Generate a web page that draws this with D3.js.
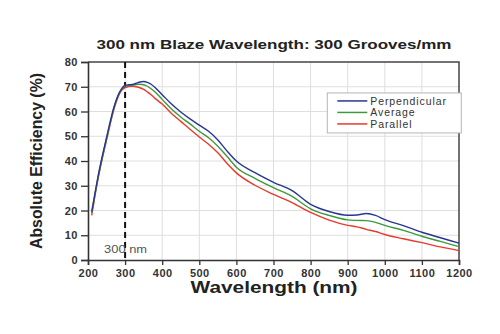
<!DOCTYPE html>
<html>
<head>
<meta charset="utf-8">
<script src="https://cdn.jsdelivr.net/npm/d3@7"></script>
<style>
  html, body { margin: 0; padding: 0; background: #fff; }
  svg { display: block; font-family: "Liberation Sans", Arial, sans-serif; }
</style>
</head>
<body>
<div id="chart"></div>
<script>
// wavelength grid (nm) shared by all three polarisation curves
const wavelengths = [210, 220, 230, 240, 250, 260, 270, 280, 290, 300, 310, 320, 330, 340, 350, 360, 370, 380, 400, 425, 450, 475, 500, 525, 550, 575, 600, 650, 700, 750, 800, 850, 900, 925, 950, 975, 1000, 1050, 1100, 1150, 1200];

// absolute efficiency (%)
const perpendicular = [19.5, 28, 36, 43, 49.5, 56, 61.8, 66.2, 69, 70.6, 70.8, 70.9, 71.4, 71.9, 72.1, 71.8, 71, 69.8, 66.8, 63, 59.8, 57, 54.5, 52, 48.5, 44, 40, 35.3, 31.4, 28, 22.5, 19.6, 18.1, 18.2, 18.8, 18, 16.3, 13.9, 11.2, 9, 6.8];
const average       = [19, 27.5, 35.5, 42.5, 49, 55.5, 61.4, 66, 68.9, 70.3, 70.5, 70.6, 70.9, 71, 70.8, 70.2, 69.2, 68, 64.9, 61, 57.8, 55, 52, 49.4, 46, 41.8, 37.5, 33, 29.2, 25.7, 20.7, 18, 16.2, 16, 15.9, 15.2, 14, 12, 9.6, 7.5, 5.4];
const parallel      = [18, 27, 35, 42, 48.5, 55, 61, 65.5, 68.4, 69.6, 70.1, 70.2, 70, 69.6, 68.9, 67.9, 66.8, 65.4, 63, 59.2, 56, 52.8, 49.7, 46.8, 43.3, 39, 35.2, 30.2, 26.5, 23.2, 19.2, 16.1, 14, 13.4, 12.4, 11.5, 10.3, 8.6, 7, 5.3, 3.8];

const seriesNames = ["Perpendicular", "Average", "Parallel"];
const seriesColors = ["#2a3592", "#3c9a3c", "#e8392c"];
const xTicks = [200, 300, 400, 500, 600, 700, 800, 900, 1000, 1100, 1200];
const yTicks = [0, 10, 20, 30, 40, 50, 60, 70, 80];
const blazeWavelength = 300;

const width = 500, height = 334;
const margin = { top: 62, right: 41, bottom: 74, left: 88 };
const iw = width - margin.left - margin.right;
const ih = height - margin.top - margin.bottom;

const svg = d3.select("#chart").append("svg")
  .attr("width", width)
  .attr("height", height);

const g = svg.append("g").attr("transform", `translate(${margin.left},${margin.top})`);

const x = d3.scaleLinear().domain([200, 1200]).range([0, iw]);
const y = d3.scaleLinear().domain([0, 80]).range([ih, 0]);

// grid
g.append("g")
  .selectAll("line.vg")
  .data(xTicks.slice(1, -1))
  .join("line")
    .attr("x1", d => x(d)).attr("x2", d => x(d))
    .attr("y1", 0).attr("y2", ih)
    .attr("stroke", "#dedede").attr("stroke-width", 1);

g.append("g")
  .selectAll("line.hg")
  .data(yTicks.slice(1, -1))
  .join("line")
    .attr("x1", 0).attr("x2", iw)
    .attr("y1", d => y(d)).attr("y2", d => y(d))
    .attr("stroke", "#dedede").attr("stroke-width", 1);

// frame: top and right
g.append("path")
  .attr("d", `M0,0H${iw}V${ih}`)
  .attr("fill", "none")
  .attr("stroke", "#444")
  .attr("stroke-width", 1.5);

// axes
const xAxis = g.append("g")
  .attr("transform", `translate(0,${ih})`)
  .call(d3.axisBottom(x).tickValues(xTicks).tickSize(5).tickPadding(4).tickFormat(d3.format("d")));

const yAxis = g.append("g")
  .call(d3.axisLeft(y).tickValues(yTicks).tickSize(7).tickPadding(3));

[xAxis, yAxis].forEach(a => {
  a.select(".domain").attr("stroke", "#333").attr("stroke-width", 1.6);
  a.selectAll(".tick line").attr("stroke", "#333").attr("stroke-width", 1.3);
  a.selectAll(".tick text")
    .attr("fill", "#333")
    .style("font-size", "11px")
    .style("font-weight", "bold")
    .style("letter-spacing", "0.5px")
    .style("font-family", "'Liberation Sans', Arial, sans-serif");
});

// blaze wavelength marker
g.append("line")
  .attr("x1", x(blazeWavelength)).attr("x2", x(blazeWavelength))
  .attr("y1", 0).attr("y2", ih)
  .attr("stroke", "#111")
  .attr("stroke-width", 2)
  .attr("stroke-dasharray", "6,4");

g.append("text")
  .attr("x", x(blazeWavelength) - 21)
  .attr("y", ih - 7)
  .attr("fill", "#555")
  .style("font-size", "10.5px")
  .attr("textLength", 43)
  .attr("lengthAdjust", "spacingAndGlyphs")
  .text(`${blazeWavelength} nm`);

// curves
const allSeries = [perpendicular, average, parallel];
const line = d3.line()
  .x((d, i) => x(wavelengths[i]))
  .y(d => y(d))
  .curve(d3.curveMonotoneX);

// draw red first so blue sits on top
[2, 1, 0].forEach(k => {
  g.append("path")
    .datum(allSeries[k])
    .attr("d", line)
    .attr("fill", "none")
    .attr("stroke", seriesColors[k])
    .attr("stroke-width", 1.4);
});

// legend
const legend = g.append("g").attr("transform", `translate(${x(845)},${y(67.5)})`);
legend.append("rect")
  .attr("width", 134).attr("height", 40)
  .attr("fill", "#fff")
  .attr("stroke", "#b5b5b5")
  .attr("stroke-width", 1);

seriesNames.forEach((name, i) => {
  const row = legend.append("g").attr("transform", `translate(10,${8 + i * 11.5})`);
  row.append("line")
    .attr("x1", 0).attr("x2", 30)
    .attr("stroke", seriesColors[i]).attr("stroke-width", 1.5);
  row.append("text")
    .attr("x", 33).attr("y", 4)
    .attr("fill", "#333")
    .style("font-size", "10.5px")
    .style("letter-spacing", "0.9px")
    .text(name);
});

// titles
svg.append("text")
  .attr("x", 274)
  .attr("y", 49)
  .attr("text-anchor", "middle")
  .attr("fill", "#222")
  .style("font-size", "13.5px")
  .style("font-weight", "bold")
  .attr("textLength", 355)
  .attr("lengthAdjust", "spacingAndGlyphs")
  .text("300 nm Blaze Wavelength: 300 Grooves/mm");

svg.append("text")
  .attr("x", 274)
  .attr("y", 293)
  .attr("text-anchor", "middle")
  .attr("fill", "#222")
  .style("font-size", "16px")
  .style("font-weight", "bold")
  .attr("textLength", 167)
  .attr("lengthAdjust", "spacingAndGlyphs")
  .text("Wavelength (nm)");

svg.append("text")
  .attr("transform", `translate(42,${(73 + 249) / 2}) rotate(-90)`)
  .attr("text-anchor", "middle")
  .attr("fill", "#222")
  .style("font-size", "16.5px")
  .style("font-weight", "bold")
  .attr("textLength", 176)
  .attr("lengthAdjust", "spacingAndGlyphs")
  .text("Absolute Efficiency (%)");
</script>
</body>
</html>
